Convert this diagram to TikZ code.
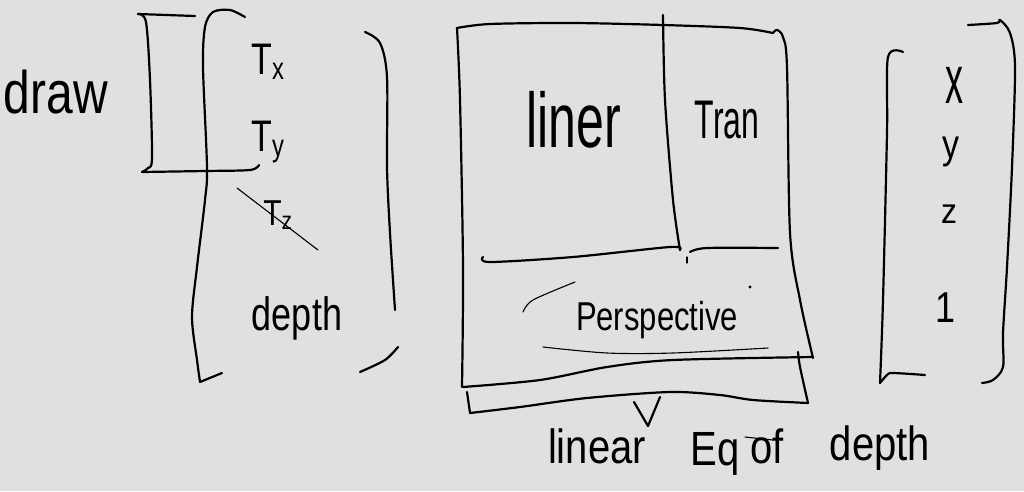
\documentclass[tikz,border=0pt]{standalone}
\usepackage{fontspec}
\setmainfont{Liberation Sans}
\definecolor{paper}{HTML}{E0E0E0}
\newcommand\stretchy[2]{\scalebox{1}[#1]{#2}}
\begin{document}
\begin{tikzpicture}[x=1pt, y=-1pt, line cap=round, line join=round,
  ink/.style={draw=black, line width=2.2pt},
  fine/.style={draw=black, line width=1.1pt},
  word/.style={inner sep=0pt, text=black}]
\fill[paper] (0,0) rectangle (1024,491);
\useasboundingbox (0,0) rectangle (1024,491);

% ---- left: label and the vector being built ----
\node[word, font=\fontsize{48}{48}\selectfont] (draw) at (56,92) {\stretchy{1.25}{draw}};

% small bracket grouping the first two rows
\draw[ink] (138,14) -- (195,16);
\draw[ink] plot[smooth] coordinates {(138,14) (146,22) (150,80) (152,158) (148,168) (142,172)};
\draw[ink] plot[smooth] coordinates {(142,172) (205,171) (250,170) (259,165)};

% big parentheses
\draw[ink] plot[smooth] coordinates {(245,17) (230,10) (213,12) (205,27) (203,67) (207,167) (205,200) (197,267) (192,317) (197,360) (200,382)};
\draw[ink] (200,382) -- (222,373);
\draw[ink] plot[smooth] coordinates {(365,32) (380,43) (387,77) (387,167) (390,233) (395,310)};
\draw[ink] plot[smooth] coordinates {(398,347) (385,360) (360,372)};

\node[word, font=\fontsize{34}{34}\selectfont] (tx) at (268,62) {\stretchy{1.3}{T\textsubscript{x}}};
\node[word, font=\fontsize{34}{34}\selectfont] (ty) at (268,142) {\stretchy{1.3}{T\textsubscript{y}}};
\node[word, font=\fontsize{30}{30}\selectfont] (tz) at (278,215) {\stretchy{1.2}{T\textsubscript{z}}};
\draw[fine] (237,188) -- (318,250);
\node[word, font=\fontsize{36}{36}\selectfont] (depth) at (297,318) {\stretchy{1.3}{depth}};

% ---- middle: the 4x4 matrix ----
\draw[ink] plot[smooth] coordinates {(457,28) (490,24) (573,23) (663,25) (740,28) (773,33)};
\draw[ink] plot[smooth] coordinates {(773,33) (777,30) (783,37) (787,67) (790,233) (800,300) (813,358)};
\draw[ink] plot[smooth] coordinates {(813,357) (673,360) (607,367) (540,380) (463,387)};
\draw[ink] plot[smooth] coordinates {(457,28) (460,100) (463,267) (462,387)};
% inner dividers
\draw[ink] plot[smooth] coordinates {(663,15) (665,100) (673,200) (680,250)};
\draw[ink] plot[smooth] coordinates {(483,257) (490,262) (573,257) (670,247) (680,250)};
\draw[ink] plot[smooth] coordinates {(690,252) (707,248) (778,248)};
\draw[fine] (687,257) -- (687,263);
\fill (750,287) circle (1.6pt);

\node[word, font=\fontsize{50}{50}\selectfont] (liner) at (574,120) {\stretchy{1.55}{liner}};
\node[word, font=\fontsize{32}{32}\selectfont] (tran) at (727,120) {\stretchy{1.7}{Tran}};
\node[word, font=\fontsize{31}{31}\selectfont] (persp) at (657,320) {\stretchy{1.3}{Perspective}};
\draw[fine] plot[smooth] coordinates {(523,312) (533,300) (575,282)};
\draw[fine] plot[smooth] coordinates {(543,347) (607,353) (673,353) (768,348)};

% bracket under the bottom row
\draw[ink] plot[smooth] coordinates {(467,392) (470,413)};
\draw[ink] plot[smooth] coordinates {(470,413) (520,407) (587,398) (670,392) (720,395) (753,400) (808,403)};
\draw[ink] plot[smooth] coordinates {(798,352) (800,367) (808,403)};
\draw[ink] (634,402) -- (648,426) -- (660,397);
\coordinate (vtip) at (648,426);

\node[word, anchor=base, font=\fontsize{40}{40}\selectfont] (w1) at (597,463) {\stretchy{1.2}{linear}};
\node[word, anchor=base, font=\fontsize{40}{40}\selectfont] (w2) at (715,465) {\stretchy{1.2}{Eq}};
\node[word, anchor=base, font=\fontsize{40}{40}\selectfont] (w3) at (767,463) {\stretchy{1.2}{of}};
\draw[fine] (745,437) -- (773,440);
\node[word, anchor=base, font=\fontsize{40}{40}\selectfont] (w4) at (880,460) {\stretchy{1.2}{depth}};

% ---- right: the input vector ----
\draw[ink] plot[smooth] coordinates {(903,52) (888,57) (887,133) (883,300) (880,383)};
\draw[ink] plot[smooth] coordinates {(880,383) (887,375) (893,373) (925,375)};
\draw[ink] plot[smooth] coordinates {(968,25) (997,23) (1000,20) (1010,33) (1015,67) (1012,167) (1007,267) (1003,333) (1003,367) (993,380) (982,383)};

\node[word, font=\fontsize{36}{36}\selectfont] (vx) at (954,85) {\stretchy{1.9}{x}};
\node[word, font=\fontsize{34}{34}\selectfont] (vy) at (951,152) {\stretchy{1.2}{y}};
\node[word, font=\fontsize{32}{32}\selectfont] (vz) at (949,214) {\stretchy{1.1}{z}};
\node[word, font=\fontsize{36}{36}\selectfont] (v1) at (945,308) {\stretchy{1.2}{1}};
\end{tikzpicture}
\end{document}
